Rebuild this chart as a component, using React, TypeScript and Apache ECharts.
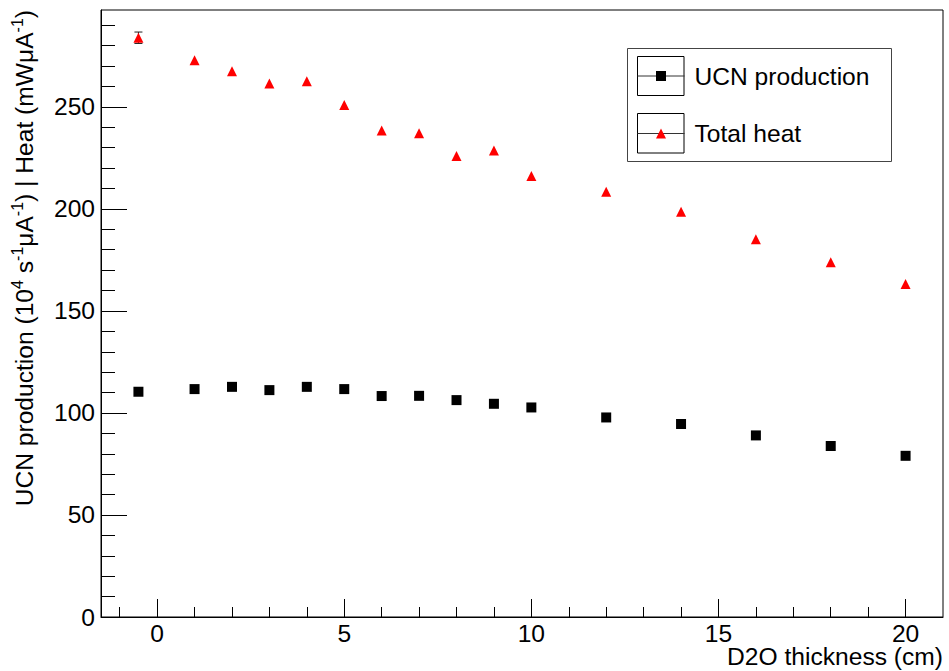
import React, { useEffect, useRef } from 'react';
import * as echarts from 'echarts';

const thickness = [-0.5, 1, 2, 3, 4, 5, 6, 7, 8, 9, 10, 12, 14, 16, 18, 20];
const ucnProduction = [110.4, 111.7, 112.8, 111.2, 112.8, 111.7, 108.3, 108.4, 106.3, 104.5, 102.7, 97.8, 94.6, 89.0, 83.8, 79.0];
const totalHeat = [283.9, 272.9, 267.5, 261.5, 262.6, 250.9, 238.4, 237.1, 225.9, 228.6, 216.1, 208.4, 198.6, 185.2, 173.9, 163.2];
const totalHeatErr = [2.8, 0, 0, 0, 0, 0, 0, 0, 0, 0, 0, 0, 0, 0, 0, 0];

const xMajorTicks = [0, 5, 10, 15, 20];
const xMinorTicks = [-1, 1, 2, 3, 4, 6, 7, 8, 9, 11, 12, 13, 14, 16, 17, 18, 19];
const yMajorTicks = [0, 50, 100, 150, 200, 250];
const yMinorTicks = [10, 20, 30, 40, 60, 70, 80, 90, 110, 120, 130, 140, 160, 170, 180, 190, 210, 220, 230, 240, 260, 270, 280, 290];

const seriesNames = ['UCN production', 'Total heat'];
const xTitle = 'D2O thickness (cm)';
const yTitle = 'UCN production (10{sup|4} s{sup|-1}\u03bcA{sup|-1}) | Heat (mW\u03bcA{sup|-1})';

const FONT = '"Liberation Sans", Arial, Helvetica, sans-serif';
const FS = 24.6;

export default function App() {
  const ref = useRef<HTMLDivElement>(null);
  useEffect(() => {
    if (!ref.current) return;
    const chart = echarts.init(ref.current, null, { renderer: 'svg' });
    const legendCommon = {
      orient: 'vertical',
      left: 637,
      padding: 0,
      itemWidth: 47,
      itemHeight: 12.5,
      selectedMode: false,
      formatter: (name: string) => '{t|' + name + '}',
      textStyle: {
        fontSize: FS,
        color: '#000',
        fontFamily: FONT,
        rich: { t: { fontSize: FS, fontFamily: FONT, color: '#000', padding: [0, 0, 0, 5] } },
      },
      lineStyle: { color: '#333', width: 1, opacity: 1 },
    };
    const option: any = {
      animation: false,
      backgroundColor: '#fff',
      grid: { left: 101, top: 10, right: 6, bottom: 54, show: true, borderColor: '#000', borderWidth: 1 },
      xAxis: [
        {
          type: 'value', min: -1.5, max: 21, position: 'bottom',
          axisLine: { onZero: false, lineStyle: { color: '#000', width: 1 } },
          axisTick: { show: true, inside: true, length: 18, customValues: xMajorTicks, lineStyle: { color: '#000', width: 1 } },
          axisLabel: { customValues: xMajorTicks, fontSize: FS, lineHeight: 20, color: '#000', margin: 6.5, fontFamily: FONT },
          splitLine: { show: false },
        },
        {
          type: 'value', min: -1.5, max: 21, position: 'bottom',
          axisLine: { show: false, onZero: false },
          axisTick: { show: true, inside: true, length: 10, customValues: xMinorTicks, lineStyle: { color: '#000', width: 1 } },
          axisLabel: { show: false },
          splitLine: { show: false },
        },
      ],
      yAxis: [
        {
          type: 'value', min: 0, max: 297.5, position: 'left',
          axisLine: { show: true, onZero: false, lineStyle: { color: '#000', width: 1 } },
          axisTick: { show: true, inside: true, length: 26, customValues: yMajorTicks, lineStyle: { color: '#000', width: 1 } },
          axisLabel: { customValues: yMajorTicks, fontSize: FS, color: '#000', margin: 6, fontFamily: FONT },
          splitLine: { show: false },
        },
        {
          type: 'value', min: 0, max: 297.5, position: 'left',
          axisLine: { show: false, onZero: false },
          axisTick: { show: true, inside: true, length: 14, customValues: yMinorTicks, lineStyle: { color: '#000', width: 1 } },
          axisLabel: { show: false },
          splitLine: { show: false },
        },
      ],
      legend: [
        { ...legendCommon, data: [seriesNames[0]], top: 63.5 },
        { ...legendCommon, data: [seriesNames[1]], top: 121 },
      ],
      series: [
        {
          type: 'custom',
          name: 'heat-errors',
          xAxisIndex: 0, yAxisIndex: 0, z: 1,
          data: thickness.map((x, i) => [x, totalHeat[i], totalHeatErr[i]]),
          renderItem: (params: any, api: any) => {
            const x = api.value(0), y = api.value(1), e = api.value(2);
            if (!e) return { type: 'group', children: [] };
            const top = api.coord([x, y + e]);
            const bot = api.coord([x, y - e]);
            const st = { stroke: '#222', lineWidth: 1 };
            return {
              type: 'group',
              children: [
                { type: 'line', shape: { x1: top[0], y1: top[1], x2: bot[0], y2: bot[1] }, style: st },
                { type: 'line', shape: { x1: top[0] - 4, y1: top[1], x2: top[0] + 4, y2: top[1] }, style: st },
                { type: 'line', shape: { x1: bot[0] - 4, y1: bot[1], x2: bot[0] + 4, y2: bot[1] }, style: st },
              ],
            };
          },
        },
        {
          type: 'line', name: seriesNames[0], xAxisIndex: 0, yAxisIndex: 0, z: 3,
          data: thickness.map((x, i) => [x, ucnProduction[i]]),
          symbol: 'rect', symbolSize: 10, showSymbol: true, showAllSymbol: true,
          lineStyle: { width: 0, opacity: 0 },
          itemStyle: { color: '#000' },
        },
        {
          type: 'line', name: seriesNames[1], xAxisIndex: 0, yAxisIndex: 0, z: 3,
          data: thickness.map((x, i) => [x, totalHeat[i]]),
          symbol: 'triangle', symbolSize: [10, 10], showSymbol: true, showAllSymbol: true,
          lineStyle: { width: 0, opacity: 0 },
          itemStyle: { color: '#ff0000' },
        },
      ],
      graphic: [
        { type: 'rect', z: 0, shape: { x: 627.5, y: 48.5, width: 264, height: 113 }, style: { fill: '#fff', stroke: '#444', lineWidth: 1 } },
        { type: 'rect', z: 1, shape: { x: 637.5, y: 56.5, width: 46.5, height: 39 }, style: { fill: 'none', stroke: '#000', lineWidth: 1 } },
        { type: 'rect', z: 1, shape: { x: 637.5, y: 113.5, width: 46.5, height: 39.5 }, style: { fill: 'none', stroke: '#000', lineWidth: 1 } },
        {
          type: 'text', x: 943, y: 656.5,
          style: { text: xTitle, align: 'right', verticalAlign: 'middle', fontSize: FS, lineHeight: 22, fontFamily: FONT, fill: '#000' },
        },
        {
          type: 'text', x: 24, y: 10, rotation: Math.PI / 2,
          style: {
            text: yTitle, align: 'right', verticalAlign: 'middle', fontSize: FS, fontFamily: FONT, fill: '#000',
            rich: {
              sup: { fontSize: 16, fontFamily: FONT, fill: '#000', verticalAlign: 'top', lineHeight: 16 },
            },
            lineHeight: 30,
          },
        },
      ],
    };
    chart.setOption(option);
    return () => chart.dispose();
  }, []);
  return <div ref={ref} style={{ position: 'fixed', left: 0, top: 0, width: 949, height: 671 }} />;
}
